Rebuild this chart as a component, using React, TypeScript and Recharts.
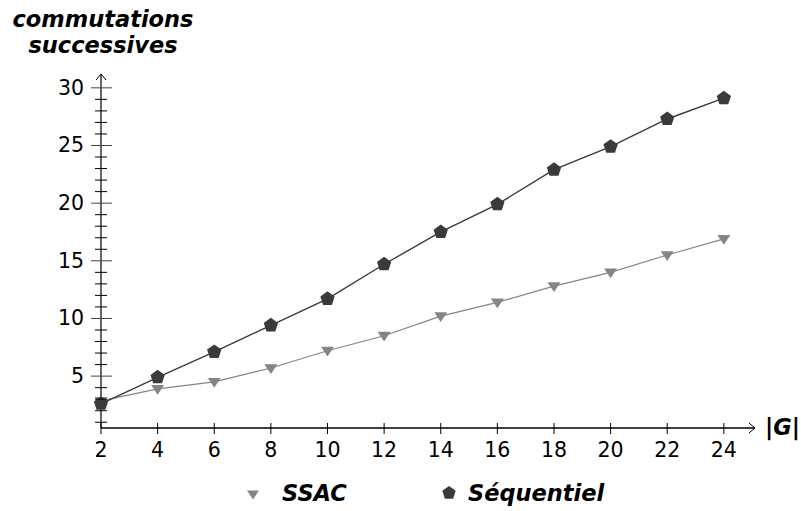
import React from "react";
import { LineChart, Line, XAxis, YAxis, ReferenceDot } from "recharts";

const sizes = [2, 4, 6, 8, 10, 12, 14, 16, 18, 20, 22, 24];
const ssac = [2.85, 3.9, 4.5, 5.7, 7.2, 8.5, 10.2, 11.4, 12.8, 14.0, 15.5, 16.9];
const sequentiel = [2.6, 4.9, 7.1, 9.4, 11.7, 14.7, 17.5, 19.9, 22.9, 24.9, 27.3, 29.1];
const yTicks = Array.from({ length: 30 }, (_, i) => i + 1);

const data = sizes.map((g, i) => ({ g, ssac: ssac[i], seq: sequentiel[i] }));

const FONT = "'DejaVu Sans', sans-serif";
const DARK = "#3a3a3a";
const GREY = "#858585";

const pentagon = (cx: number, cy: number, r: number) =>
  Array.from({ length: 5 }, (_, k) => {
    const a = -Math.PI / 2 + (k * 2 * Math.PI) / 5;
    return `${cx + r * Math.cos(a)},${cy + r * Math.sin(a)}`;
  }).join(" ");

const triangle = (cx: number, cy: number, r: number) =>
  `${cx - r},${cy - r * 0.6} ${cx + r},${cy - r * 0.6} ${cx},${cy + r * 0.9}`;

const PentDot = (p: any) => <polygon points={pentagon(p.cx, p.cy, 7.5)} fill={DARK} />;
const TriDot = (p: any) => <polygon points={triangle(p.cx, p.cy, 6.5)} fill={GREY} />;

const XTick = (p: any) => (
  <g>
    <line x1={p.x} x2={p.x} y1={p.y - 5} y2={p.y + 6} stroke="#000" />
    <text x={p.x} y={p.y + 29} textAnchor="middle" fontSize={20.5} fontFamily={FONT} fill="#000">
      {p.payload.value}
    </text>
  </g>
);

const YTick = (p: any) => {
  const v = p.payload.value;
  const major = v % 5 === 0;
  return (
    <g>
      <line x1={p.x - (major ? 10 : 6)} x2={p.x + (major ? 11 : 6)} y1={p.y} y2={p.y} stroke={major ? "#444" : "#000"} />
      {major && (
        <text x={p.x - 17} y={p.y + 7} textAnchor="end" fontSize={20.5} fontFamily={FONT} fill="#000">
          {v}
        </text>
      )}
    </g>
  );
};

const boldText: React.CSSProperties = {
  position: "absolute",
  fontFamily: FONT,
  fontWeight: "bold",
  fontStyle: "italic",
  fontSize: 22.5,
  lineHeight: "26px",
  whiteSpace: "nowrap",
};

export default function App() {
  return (
    <div style={{ position: "absolute", left: 0, top: 0, width: 801, height: 511, background: "#fff" }}>
      <LineChart width={801} height={511} data={data} margin={{ top: 74, right: 46, left: 0, bottom: 43 }}>
        <XAxis
          dataKey="g"
          type="number"
          domain={[2, 25.1]}
          ticks={sizes}
          tick={<XTick />}
          tickLine={false}
          tickSize={0}
          tickMargin={0}
          height={40}
          axisLine={{ stroke: "#000", strokeWidth: 1.5 }}
        />
        <YAxis
          type="number"
          domain={[0.5, 31.2]}
          ticks={yTicks}
          interval={0}
          tick={<YTick />}
          tickLine={false}
          tickSize={0}
          tickMargin={0}
          width={101}
          axisLine={{ stroke: "#000", strokeWidth: 1.2 }}
        />
        <Line dataKey="ssac" stroke={GREY} strokeWidth={1.2} dot={<TriDot />} activeDot={false} isAnimationActive={false} />
        <Line dataKey="seq" stroke={DARK} strokeWidth={1.4} dot={<PentDot />} activeDot={false} isAnimationActive={false} />
        <ReferenceDot
          x={25.1}
          y={0.5}
          ifOverflow="visible"
          shape={(p: any) => (
            <path d={`M${p.cx - 6},${p.cy - 5} L${p.cx},${p.cy} L${p.cx - 6},${p.cy + 5}`} stroke="#000" fill="none" />
          )}
        />
        <ReferenceDot
          x={2}
          y={31.2}
          ifOverflow="visible"
          shape={(p: any) => (
            <path d={`M${p.cx - 5},${p.cy + 6} L${p.cx},${p.cy} L${p.cx + 5},${p.cy + 6}`} stroke="#000" fill="none" />
          )}
        />
      </LineChart>
      <div style={{ ...boldText, left: 10, top: 6, width: 186, textAlign: "center" }}>
        commutations
        <br />
        successives
      </div>
      <div style={{ ...boldText, left: 765, top: 414 }}>|G|</div>
      <svg style={{ position: "absolute", left: 0, top: 480 }} width={801} height={30}>
        <polygon points={triangle(253, 14, 6)} fill={GREY} />
        <polygon points={pentagon(449, 13, 7)} fill={DARK} />
      </svg>
      <div style={{ ...boldText, left: 282, top: 480 }}>SSAC</div>
      <div style={{ ...boldText, left: 468, top: 480 }}>Séquentiel</div>
    </div>
  );
}
